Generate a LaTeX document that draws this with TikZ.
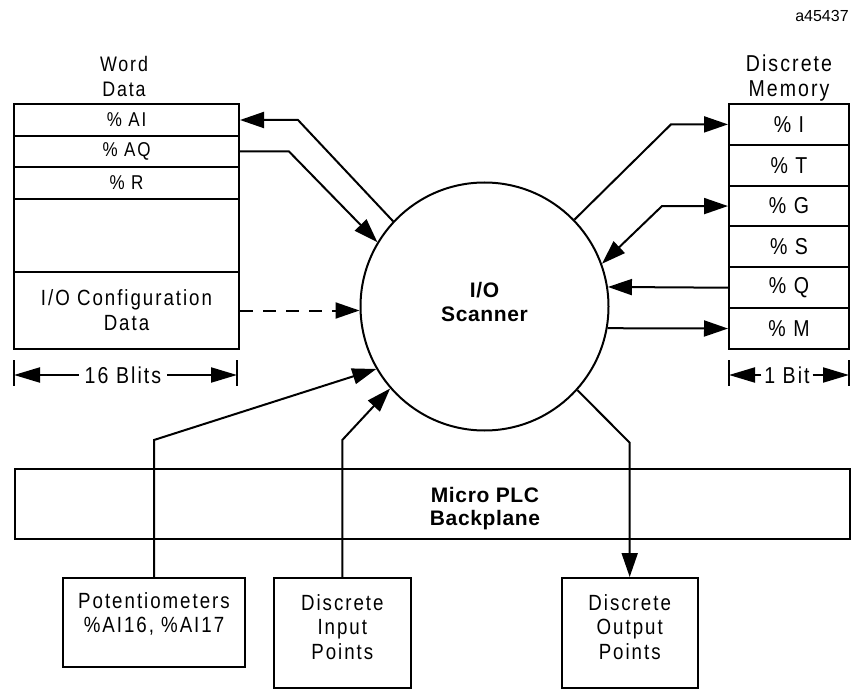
\documentclass[tikz,border=0pt]{standalone}
\usepackage{fontspec}
\setmainfont{Liberation Sans}
\newfontfamily\narrowfont[FakeStretch=0.85,LetterSpace=9]{Liberation Sans}
\newfontfamily\plcfont[LetterSpace=3]{Liberation Sans}
\usepackage{tikz}
\usetikzlibrary{positioning,arrows.meta,calc}

\begin{document}
\begin{tikzpicture}[x=1pt, y=-1pt, line width=2pt, >={Triangle[length=24pt,width=16pt]},
  wcell/.style={draw, minimum width=225pt, inner sep=0pt, align=center, font=\narrowfont\fontsize{20}{25}\selectfont},
  mcell/.style={draw, minimum width=120pt, minimum height=40.83pt, inner sep=0pt, font=\narrowfont\fontsize{23}{25}\selectfont},
  heading/.style={align=center, inner sep=0pt, font=\narrowfont\fontsize{23}{25}\selectfont},
  iobox/.style={draw, inner sep=0pt},
  iotext/.style={align=center, inner sep=0pt, font=\narrowfont\fontsize{22}{24.5}\selectfont},
  boldtext/.style={align=center, inner sep=0pt, font=\plcfont\bfseries\fontsize{21}{23.5}\selectfont},
  dimarrow/.style={->, >={Triangle[length=26pt,width=15pt]}}]
\useasboundingbox (0,0) rectangle (855,690);
\node[font=\fontsize{16}{16}\selectfont, inner sep=0pt] (tag) at (822,16) {a45437};

% word data table, 16 bits wide
\node[heading, font=\narrowfont\fontsize{21}{25}\selectfont] (wdhead) at (124,76.5) {Word\\Data};
\node[wcell, minimum height=32pt] (ai) at (126.5,120) {\% AI};
\node[wcell, minimum height=31pt] (aq) at (126.5,151.5) {\% AQ};
\node[wcell, minimum height=32pt] (r) at (126.5,183) {\% R};
\node[wcell, minimum height=73pt] (wfree) at (126.5,235.5) {};
\node[wcell, minimum height=77pt, font=\narrowfont\fontsize{22}{25}\selectfont] (cfg) at (126.5,310.5) {I/O Configuration\\Data};
\coordinate (w16L) at (14,375);
\coordinate (w16R) at (237,375);
\draw (14,360) -- (14,386);
\draw (237,360) -- (237,386);
\node[heading, inner xsep=5pt] (bits16) at (123,375) {16 Blits};
\draw[dimarrow] (bits16) -- (w16L);
\draw[dimarrow] (bits16) -- (w16R);

% discrete memory table, 1 bit wide
\node[heading] (dmhead) at (789,78) {Discrete\\Memory};
\foreach \t [count=\i from 0] in {I,T,G,S,Q,M}
  \node[mcell] (m\t) at (789,124.4+\i*40.83) {\% \t};
\coordinate (b1L) at (729,375);
\coordinate (b1R) at (849,375);
\draw (729,360) -- (729,386);
\draw (849,360) -- (849,386);
\node[heading, inner xsep=2pt] (bit1) at (787,375) {1 Bit};
\draw[dimarrow] (bit1) -- (b1L);
\draw[dimarrow] (bit1) -- (b1R);

% scanner in the middle
\node[draw, circle, minimum size=248pt, inner sep=0pt] (scan) at (484.5,306.5) {};
\node[boldtext] (scantxt) at (484.5,302) {I/O\\Scanner};

% word data <-> scanner
\draw[->] (scan.137) -- ($(ai.east)+(58,0)$) -- (ai.east);
\draw[->] (aq.east) -- ($(aq.east)+(49,0)$) -- (scan.149);
\draw[->, dash pattern=on 13pt off 10pt] (cfg.east) -- (cfg.east -| scan.west);

% scanner <-> discrete memory
\draw[->] (scan.44) -- ($(mI.west)+(-57,0)$) -- (mI.west);
\draw[<->] (scan.20) -- ($(mG.west)+(-66,0)$) -- (mG.west);
\draw[->] (mQ.west) -- (scan.9);
\draw[->] (scan.-10) -- (mM.west);

% backplane and field devices
\node[iobox, minimum width=835pt, minimum height=70pt] (bp) at (432.5,504) {};
\node[boldtext] (bptxt) at (485,508.5) {Micro PLC\\Backplane};
\node[iobox, minimum width=182pt, minimum height=89pt] (pot) at (154,622.5) {};
\node[iotext] (pottxt) at (154,614) {Potentiometers\\\%AI16, \%AI17};
\node[iobox, minimum width=136.7pt, minimum height=110pt] (din) at (342.3,633) {};
\node[iotext] (dintxt) at (342.3,627) {Discrete\\Input\\Points};
\node[iobox, minimum width=136pt, minimum height=110pt] (dout) at (629.7,633) {};
\node[iotext] (douttxt) at (629.7,627) {Discrete\\Output\\Points};

% field connections through the backplane
\draw[->] (pot.north) -- (pot.north |- 0,440) -- (scan.210);
\draw[->] (din.north) -- (din.north |- 0,440) -- (scan.221);
\draw[->] (scan.-42) -- (dout.north |- 0,442.7) -- (dout.north);
\end{tikzpicture}
\end{document}
